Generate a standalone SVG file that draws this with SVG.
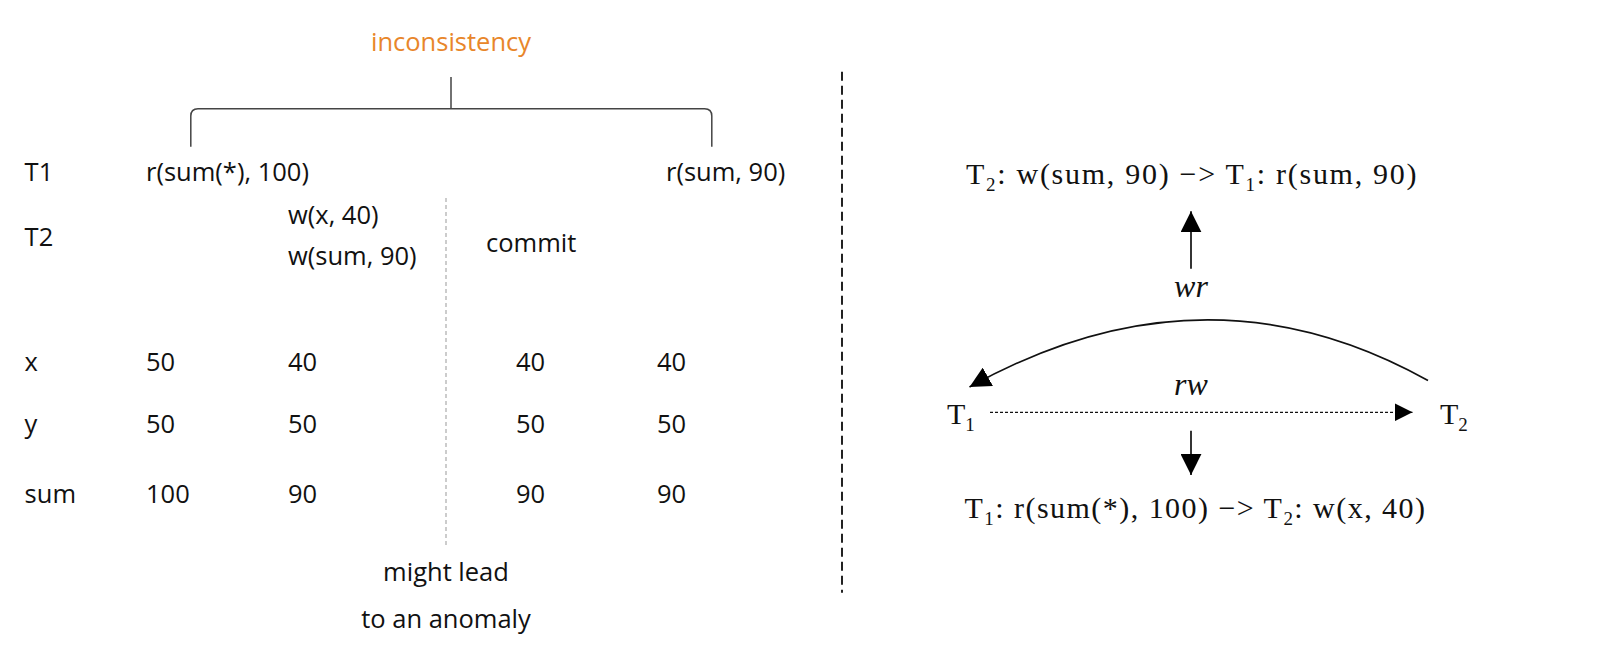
<svg xmlns="http://www.w3.org/2000/svg" width="1600" height="668" viewBox="0 0 1600 668">
<style>
.s{font-family:"Open Sans","Noto Sans",sans-serif;font-size:25.5px;fill:#111}
.o{font-family:"Open Sans","Noto Sans",sans-serif;font-size:25.5px;fill:#E8862A}
.t{font-family:"Liberation Serif","Times New Roman",serif;font-size:30px;fill:#111}
.i{font-family:"Liberation Serif","Times New Roman",serif;font-size:32px;font-style:italic;fill:#111}
.sub{font-size:19px}
.ln{stroke:#111;stroke-width:1.7;fill:none}
</style>
<defs>
<marker id="ah" viewBox="0 0 10 10" refX="10" refY="5" markerWidth="21" markerHeight="21" markerUnits="userSpaceOnUse" orient="auto">
<path d="M0,0 L10,5 L0,10 z" fill="#000"/>
</marker>
<marker id="ahs" viewBox="0 0 10 10" refX="10" refY="5" markerWidth="18" markerHeight="18" markerUnits="userSpaceOnUse" orient="auto">
<path d="M0,0 L10,5 L0,10 z" fill="#000"/>
</marker>
</defs>
<rect width="1600" height="668" fill="#fff"/>
<g id="left-timeline">
<text class="o" x="451" y="51" text-anchor="middle">inconsistency</text>
<path d="M451,77 V108.7 M190.8,146.7 V116 Q190.8,108.7 198,108.7 H704.6 Q711.8,108.7 711.8,116 V146.7" stroke="#444" stroke-width="1.5" fill="none"/>
<text class="s" x="24.6" y="181">T1</text>
<text class="s" x="24.6" y="246">T2</text>
<text class="s" x="146" y="181">r(sum(*), 100)</text>
<text class="s" x="666" y="181">r(sum, 90)</text>
<text class="s" x="288" y="223.6">w(x, 40)</text>
<text class="s" x="288" y="264.6">w(sum, 90)</text>
<text class="s" x="486" y="252">commit</text>
<line x1="446" y1="198" x2="446" y2="545.6" stroke="#999" stroke-width="1" stroke-dasharray="4 3"/>
<text class="s" x="24.6" y="371">x</text>
<text class="s" x="146" y="371">50</text>
<text class="s" x="288" y="371">40</text>
<text class="s" x="516" y="371">40</text>
<text class="s" x="657" y="371">40</text>
<text class="s" x="24.6" y="433">y</text>
<text class="s" x="146" y="433">50</text>
<text class="s" x="288" y="433">50</text>
<text class="s" x="516" y="433">50</text>
<text class="s" x="657" y="433">50</text>
<text class="s" x="24.6" y="502.5">sum</text>
<text class="s" x="146" y="502.5">100</text>
<text class="s" x="288" y="502.5">90</text>
<text class="s" x="516" y="502.5">90</text>
<text class="s" x="657" y="502.5">90</text>
<text class="s" x="446" y="580.5" text-anchor="middle">might lead</text>
<text class="s" x="446" y="627.7" text-anchor="middle">to an anomaly</text>
</g>
<line x1="842" y1="71.8" x2="842" y2="592.8" stroke="#222" stroke-width="2" stroke-dasharray="9 5"/>
<g id="node-T1">
<text class="t" x="947" y="423.6">T<tspan class="sub" dy="7">1</tspan></text>
</g>
<g id="node-T2">
<text class="t" x="1440" y="423.6">T<tspan class="sub" dy="7">2</tspan></text>
</g>
<g id="label-top">
<text class="t" x="966" y="183.5" textLength="450.5" lengthAdjust="spacing">T<tspan class="sub" dy="7">2</tspan><tspan dy="-7">: w(sum, 90) −&gt; T</tspan><tspan class="sub" dy="7">1</tspan><tspan dy="-7">: r(sum, 90)</tspan></text>
</g>
<g id="label-bottom">
<text class="t" x="964.5" y="518" textLength="460.5" lengthAdjust="spacing">T<tspan class="sub" dy="7">1</tspan><tspan dy="-7">: r(sum(*), 100) −&gt; T</tspan><tspan class="sub" dy="7">2</tspan><tspan dy="-7">: w(x, 40)</tspan></text>
</g>
<g id="connectors">
<path class="ln" d="M1428,380.5 Q1205,256 969.5,387" marker-end="url(#ah)"/>
<text class="i" x="1191" y="297" text-anchor="middle">wr</text>
<line x1="990" y1="412.3" x2="1412.5" y2="412.3" stroke="#111" stroke-width="1.3" stroke-dasharray="3 2" marker-end="url(#ahs)"/>
<text class="i" x="1191" y="394.5" text-anchor="middle">rw</text>
<line class="ln" x1="1191" y1="268.7" x2="1191" y2="211.3" marker-end="url(#ah)"/>
<line class="ln" x1="1191" y1="430.8" x2="1191" y2="474.9" marker-end="url(#ah)"/>
</g>
</svg>
